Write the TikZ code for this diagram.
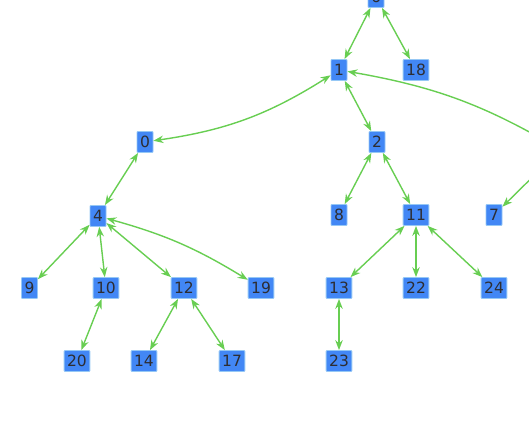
\documentclass[tikz,border=0pt]{standalone}
\usepackage{fontspec}
\setmainfont{DejaVu Sans}
\usetikzlibrary{arrows.meta}
\definecolor{nodefill}{RGB}{66,135,245}
\definecolor{nodeedge}{RGB}{150,200,245}
\definecolor{edgegreen}{RGB}{104,206,82}
\definecolor{txt}{RGB}{45,45,50}
\tikzset{
  vtx/.style={draw=nodeedge, line width=0.8pt, fill=nodefill, text=txt,
    font=\fontsize{15.5}{16}\selectfont, minimum height=21pt, minimum width=16pt,
    inner xsep=3pt, inner ysep=0pt, rounded corners=0.8pt},
  lnk/.style={draw=edgegreen, line width=1.4pt,
    {Stealth[length=10pt,width=7.5pt]}-{Stealth[length=10pt,width=7.5pt]}},
  lnkone/.style={draw=edgegreen, line width=1.4pt, -{Stealth[length=10pt,width=7.5pt]}}
}
\begin{document}
\begin{tikzpicture}[x=1pt,y=-1pt]
\useasboundingbox (0,0) rectangle (529,446);
\clip (0,0) rectangle (529,446);
\node[vtx] (n6) at (376,-3) {6};
\node[vtx] (n1) at (339,70) {1};
\node[vtx] (n18) at (416,70) {18};
\node[vtx] (n0) at (145,142) {0};
\node[vtx] (n2) at (377,142) {2};
\coordinate (n5a) at (556,147);
\coordinate (n5b) at (558,152);
\node[vtx] (n4) at (98,216) {4};
\node[vtx] (n8) at (339,215) {8};
\node[vtx] (n11) at (416,215) {11};
\node[vtx] (n7) at (494,215) {7};
\node[vtx] (n9) at (29.5,288) {9};
\node[vtx] (n10) at (106,288) {10};
\node[vtx] (n12) at (184,288) {12};
\node[vtx] (n19) at (261,288) {19};
\node[vtx] (n13) at (339,288) {13};
\node[vtx] (n22) at (416,288) {22};
\node[vtx] (n24) at (494,288) {24};
\node[vtx] (n20) at (77,361) {20};
\node[vtx] (n14) at (144,361) {14};
\node[vtx] (n17) at (232,361) {17};
\node[vtx] (n23) at (339,361) {23};

\draw[lnk] (n6) -- (n1);
\draw[lnk] (n6) -- (n18);
\draw[lnk] (n1) to[bend left=12] (n0);
\draw[lnk] (n1) -- (n2);
\draw[lnk] (n1) to[bend left=10] (n5a);
\draw[lnkone] (n5b) -- (n7);
\draw[lnk] (n2) -- (n8);
\draw[lnk] (n2) -- (n11);
\draw[lnk] (n0) -- (n4);
\draw[lnk] (n4) -- (n9);
\draw[lnk] (n4) -- (n10);
\draw[lnk] (n4) -- (n12);
\draw[lnk] (n4) to[bend left=8] (n19);
\draw[lnk] (n10) -- (n20);
\draw[lnk] (n12) -- (n14);
\draw[lnk] (n12) -- (n17);
\draw[lnk] (n11) -- (n13);
\draw[lnk] (n11) -- (n22);
\draw[lnk] (n11) -- (n24);
\draw[lnk] (n13) -- (n23);
\end{tikzpicture}
\end{document}
